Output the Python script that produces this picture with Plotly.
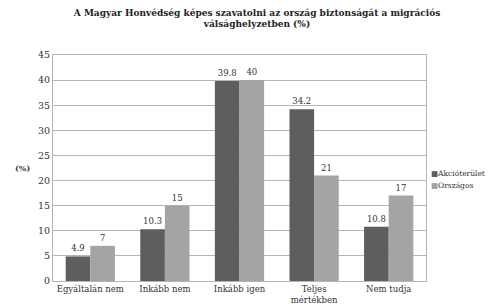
import plotly.graph_objects as go

categories = ["Egyáltalán nem", "Inkább nem", "Inkább igen", "Teljes<br>mértékben", "Nem tudja"]
akcio = [4.9, 10.3, 39.8, 34.2, 10.8]
orszagos = [7, 15, 40, 21, 17]
akcio_labels = ["4.9", "10.3", "39.8", "34.2", "10.8"]
orszagos_labels = ["7", "15", "40", "21", "17"]
yticks = [0, 5, 10, 15, 20, 25, 30, 35, 40, 45]
series_names = ["Akcióterület", "Országos"]
colors = ["#5e5e5e", "#a4a4a4"]

font = "DejaVu Serif"

fig = go.Figure()
fig.add_bar(x=categories, y=akcio, name=series_names[0], marker_color=colors[0],
            marker_line_width=0, text=akcio_labels, textposition="outside",
            textfont=dict(size=8.5, color="#333"), cliponaxis=False)
fig.add_bar(x=categories, y=orszagos, name=series_names[1], marker_color=colors[1],
            marker_line_width=0, text=orszagos_labels, textposition="outside",
            textfont=dict(size=8.5, color="#333"), cliponaxis=False)

fig.update_layout(
    width=498, height=306,
    margin=dict(l=45, r=80, t=47, b=33),
    paper_bgcolor="white", plot_bgcolor="white",
    font=dict(family=font, size=9, color="#333"),
    title=dict(text="<b>A Magyar Honvédség képes szavatolni az ország biztonságát a migrációs<br>válsághelyzetben (%)</b>",
               x=0.5, xanchor="center", y=0.975, yanchor="top",
               font=dict(size=9, family=font, color="#222")),
    barmode="group", bargap=0.34, bargroupgap=0,
    showlegend=False,
)
fig.update_yaxes(range=[0, 45], tickvals=yticks, showgrid=True, gridcolor="#b5b5b5",
                 gridwidth=1, showline=True, linecolor="#b5b5b5", mirror=True,
                 ticks="", tickfont=dict(size=9.5), zeroline=False, automargin=False)
fig.update_xaxes(showline=True, linecolor="#b5b5b5", mirror=True, ticks="",
                 tickfont=dict(size=8.5), automargin=False)
fig.add_annotation(text="<b>(%)</b>", xref="paper", yref="paper", x=-0.055, y=0.5,
                   showarrow=False, xanchor="right", font=dict(size=8, family=font))
for i, (nm, c) in enumerate(zip(series_names, colors)):
    fig.add_annotation(text=f"<span style='color:{c}'>■</span>{nm}", xref="paper", yref="paper",
                       x=1.008, y=0.475 - i * 0.053, xanchor="left", yanchor="middle",
                       showarrow=False, font=dict(size=7.5, family=font, color="#333"))
fig.write_html("out.html")
